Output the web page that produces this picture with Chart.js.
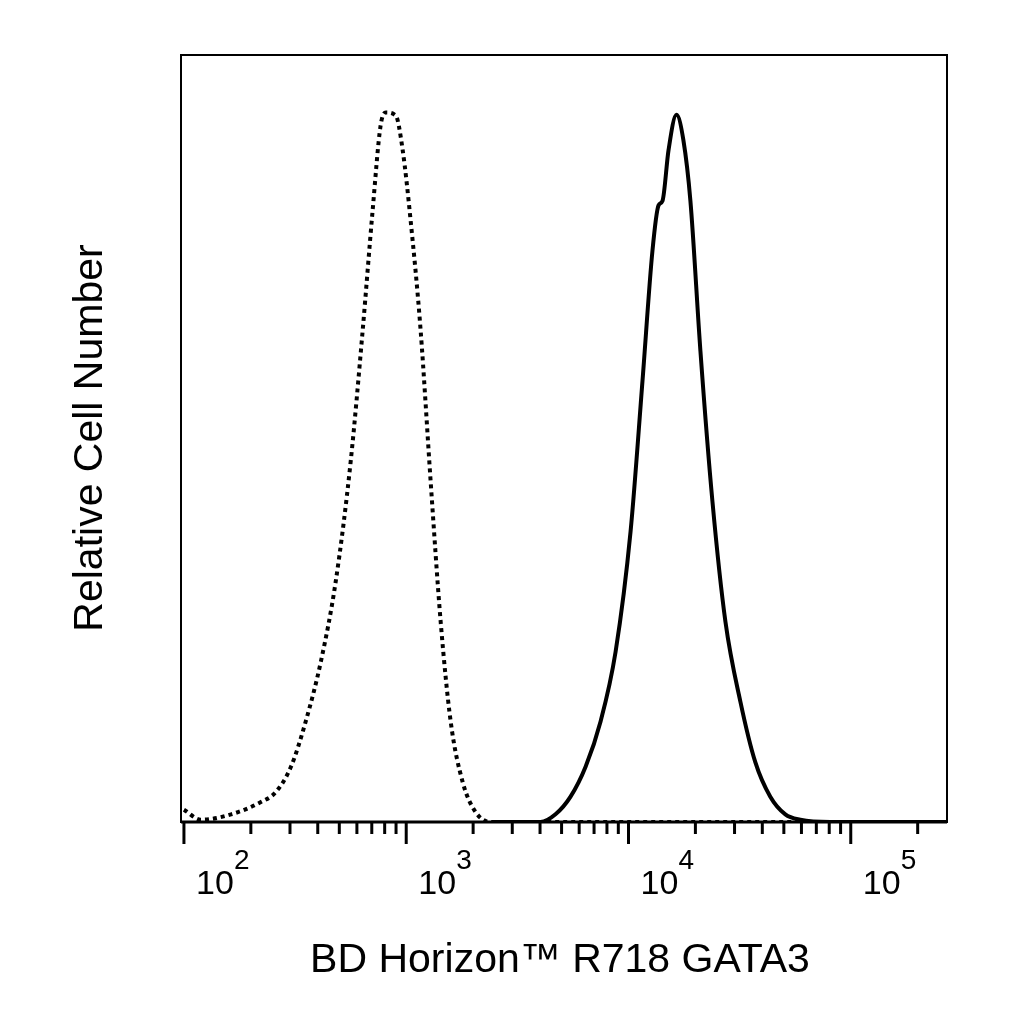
<!DOCTYPE html>
<html lang="en">
<head>
<meta charset="UTF-8">
<title>GATA3 histogram</title>
<style>
    body { margin: 0; background: #fff; }
    #wrap { width: 1024px; height: 1024px; }
</style>
</head>
<body>
<div id="wrap"><canvas id="chart" width="1024" height="1024"></canvas></div>
<script src="https://cdn.jsdelivr.net/npm/chart.js"></script>
<script>
// isotype control (dotted)
const isoX = [100, 119, 163, 222, 259, 303, 353, 413, 482, 563, 637, 706, 767, 809, 897, 964, 1047, 1161, 1288, 1429, 1585, 1795, 2052, 2399, 4457, 20000, 271000];
const isoY = [1.6, 0.3, 1.0, 2.6, 3.9, 7.2, 13.1, 20.9, 31.4, 47.1, 64.1, 79.7, 90.8, 92.5, 92.1, 87.6, 78.4, 64.1, 44.4, 26.1, 13.1, 5.2, 1.3, 0, 0, 0, 0];
// GATA3 stain (solid)
const gataX = [2500, 4018, 4695, 5487, 6412, 7489, 8750, 10220, 11560, 12820, 13650, 14230, 15140, 16440, 17660, 18990, 21070, 23860, 27300, 31870, 37200, 43450, 50770, 59300, 80900, 271000];
const gataY = [0, 0, 1.0, 3.3, 7.2, 13.1, 22.2, 37.9, 57.5, 74.5, 80.4, 81.0, 87.6, 92.2, 88.9, 81.0, 61.4, 41.8, 26.1, 15.7, 7.8, 3.3, 1.0, 0.3, 0, 0];
const decades = [2, 3, 4, 5];
const xTitle = 'BD Horizon™ R718 GATA3';
const yTitle = 'Relative Cell Number';

const pts = (xs, ys) => xs.map((x, i) => ({ x: x, y: ys[i] }));
const FONT = 'Arial, "Liberation Sans", sans-serif';

const axesPlugin = {
    id: 'flowAxes',
    afterDraw(chart) {
        const ctx = chart.ctx;
        const a = chart.chartArea;
        const xs = chart.scales.x;
        ctx.save();
        ctx.strokeStyle = '#000';
        ctx.lineWidth = 2;
        ctx.strokeRect(a.left, a.top, a.right - a.left, a.bottom - a.top);
        ctx.lineWidth = 3;
        ctx.beginPath();
        ctx.moveTo(a.left, a.bottom);
        ctx.lineTo(a.right, a.bottom);
        ctx.stroke();
        // ticks
        for (let d = 1; d <= 5; d++) {
            for (let m = 1; m <= 9; m++) {
                const v = m * Math.pow(10, d);
                const px = xs.getPixelForValue(v);
                if (px < a.left - 1 || px > a.right + 1) continue;
                const len = m === 1 ? 22 : 12;
                ctx.beginPath();
                ctx.moveTo(px, a.bottom);
                ctx.lineTo(px, a.bottom + len);
                ctx.stroke();
            }
        }
        // tick labels
        ctx.fillStyle = '#000';
        ctx.textBaseline = 'alphabetic';
        decades.forEach(d => {
            const px = xs.getPixelForValue(Math.pow(10, d));
            ctx.font = '34px ' + FONT;
            ctx.textAlign = 'center';
            ctx.fillText('10', px + 31, 894);
            ctx.font = '28px ' + FONT;
            ctx.textAlign = 'left';
            ctx.fillText(String(d), px + 50, 869);
        });
        // titles
        ctx.font = '41px ' + FONT;
        ctx.textAlign = 'center';
        ctx.fillText(xTitle, 560, 972);
        ctx.translate(102, 438);
        ctx.rotate(-Math.PI / 2);
        ctx.fillText(yTitle, 0, 0);
        ctx.restore();
    }
};

new Chart(document.getElementById('chart'), {
    type: 'line',
    data: {
        datasets: [
            { data: pts(isoX, isoY), borderColor: '#000', borderWidth: 4, borderDash: [4, 4], pointRadius: 0, cubicInterpolationMode: 'monotone', fill: false },
            { data: pts(gataX, gataY), borderColor: '#000', borderWidth: 4, pointRadius: 0, cubicInterpolationMode: 'monotone', fill: false }
        ]
    },
    options: {
        responsive: false,
        animation: false,
        layout: { padding: { left: 181, right: 77, top: 55, bottom: 202 } },
        plugins: { legend: { display: false }, tooltip: { enabled: false } },
        scales: {
            x: { type: 'logarithmic', min: 97, max: 271000, display: false },
            y: { min: 0, max: 100, display: false }
        }
    },
    plugins: [axesPlugin]
});
</script>
</body>
</html>
